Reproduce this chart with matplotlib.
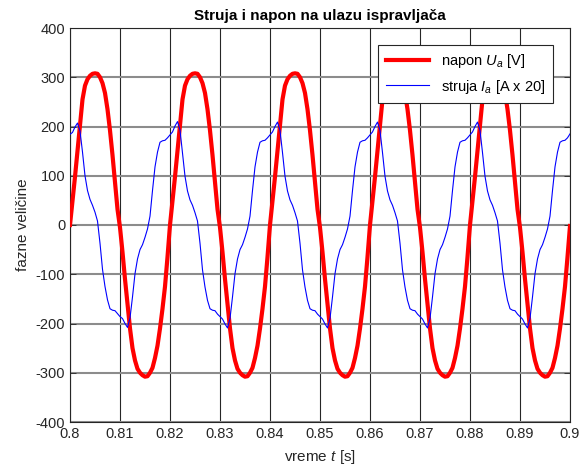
import numpy as np
import matplotlib
matplotlib.use("Agg")
import matplotlib.pyplot as plt

plt.rcParams["font.family"] = ["Liberation Sans", "DejaVu Sans"]
plt.rcParams["font.size"] = 10
plt.rcParams["axes.unicode_minus"] = False
plt.rcParams["mathtext.fontset"] = "custom"
plt.rcParams["mathtext.it"] = "Liberation Sans:italic"
plt.rcParams["mathtext.rm"] = "Liberation Sans"

# sampling step of the read-off values [s]
dt = 0.0005
t_start = 0.8

# napon U_a [V], read every 0.5 ms from 0.80 s to 0.90 s
napon = [
    0, 48, 98, 150, 200, 255, 283, 296, 303, 307, 308, 307, 300, 288, 268, 235, 192, 142, 88, 32,
    -5, -55, -110, -160, -210, -250, -275, -292, -300, -305, -308, -307, -300, -290, -270, -245, -210, -170, -125, -65,
    0, 48, 98, 150, 200, 255, 283, 296, 303, 307, 308, 307, 300, 288, 268, 235, 192, 142, 88, 32,
    -5, -55, -110, -160, -210, -250, -275, -292, -300, -305, -308, -307, -300, -290, -270, -245, -210, -170, -125, -65,
    0, 48, 98, 150, 200, 255, 283, 296, 303, 307, 308, 307, 300, 288, 268, 235, 192, 142, 88, 32,
    -5, -55, -110, -160, -210, -250, -275, -292, -300, -305, -308, -307, -300, -290, -270, -245, -210, -170, -125, -65,
    0, 48, 98, 150, 200, 255, 283, 296, 303, 307, 308, 307, 300, 288, 268, 235, 192, 142, 88, 32,
    -5, -55, -110, -160, -210, -250, -275, -292, -300, -305, -308, -307, -300, -290, -270, -245, -210, -170, -125, -65,
    0, 48, 98, 150, 200, 255, 283, 296, 303, 307, 308, 307, 300, 288, 268, 235, 192, 142, 88, 32,
    -5, -55, -110, -160, -210, -250, -275, -292, -300, -305, -308, -307, -300, -290, -270, -245, -210, -170, -125, -65,
    -2,
]

# struja I_a [A x 20], same sampling
struja = [
    184, 188, 199, 207, 191, 148, 100, 70, 52, 40, 26, 8, -37, -90, -125, -152, -170, -173, -174, -180,
    -186, -190, -200, -208, -189, -146, -99, -69, -50, -40, -25, -8, 18, 70, 118, 148, 168, 171, 172, 177,
    183, 189, 201, 210, 193, 147, 99, 69, 51, 40, 25, 8, -37, -91, -126, -153, -170, -173, -174, -181,
    -186, -191, -201, -209, -190, -146, -99, -69, -50, -40, -25, -8, 18, 70, 118, 148, 168, 171, 172, 177,
    183, 189, 200, 209, 192, 147, 99, 69, 51, 40, 25, 8, -37, -91, -126, -153, -170, -173, -174, -181,
    -186, -191, -201, -209, -190, -146, -99, -69, -50, -40, -25, -8, 18, 70, 118, 148, 168, 171, 172, 177,
    183, 189, 200, 209, 192, 147, 99, 69, 51, 40, 25, 8, -37, -91, -126, -153, -170, -173, -174, -181,
    -186, -191, -201, -209, -190, -146, -99, -69, -50, -40, -25, -8, 18, 70, 118, 148, 168, 171, 172, 177,
    183, 189, 200, 209, 192, 147, 99, 69, 51, 40, 25, 8, -37, -91, -126, -153, -170, -173, -174, -181,
    -186, -191, -201, -209, -190, -146, -99, -69, -50, -40, -25, -8, 18, 70, 118, 148, 168, 171, 172, 177,
    185,
]

x_ticks = [0.8, 0.81, 0.82, 0.83, 0.84, 0.85, 0.86, 0.87, 0.88, 0.89, 0.9]
x_labels = ["0.8", "0.81", "0.82", "0.83", "0.84", "0.85", "0.86", "0.87", "0.88", "0.89", "0.9"]
y_ticks = [-400, -300, -200, -100, 0, 100, 200, 300, 400]

t = t_start + dt * np.arange(len(napon))

W, H = 579, 470
fig = plt.figure(figsize=(W / 100, H / 100), dpi=100)
ax = fig.add_axes([70 / W, (H - 422) / H, 500 / W, 394 / H])

ax.plot(t, napon, color="#ff0000", lw=3.0, label=r"napon $U_a$ [V]", zorder=3)
ax.plot(t, struja, color="#0000ff", lw=0.8, label=r"struja $I_a$ [A x 20]", zorder=3)

ax.set_xlim(0.8, 0.9)
ax.set_ylim(-400, 400)
ax.set_xticks(x_ticks)
ax.set_xticklabels(x_labels)
ax.set_yticks(y_ticks)

# MATLAB-like grid: dark thin verticals, gray horizontals
ax.xaxis.grid(True, color="#262626", lw=0.8)
ax.yaxis.grid(True, color="#8c8c8c", lw=1.5)
ax.set_axisbelow(True)

ax.tick_params(direction="in", top=True, right=True, length=4, width=0.6,
               labelsize=10.5, colors="#262626", labelcolor="#262626")
for s in ax.spines.values():
    s.set_color("#262626")
    s.set_linewidth(0.8)

ax.set_title("Struja i napon na ulazu ispravljača", fontweight="bold", fontsize=11, pad=6)
ax.set_xlabel(r"vreme $t$ [s]", fontsize=11, color="#262626", labelpad=5)
ax.set_ylabel("fazne veličine", fontsize=11, color="#262626", labelpad=4)

leg = ax.legend(loc="upper right", bbox_to_anchor=(0.966, 0.957), borderaxespad=0,
                fancybox=False, framealpha=1, edgecolor="#262626", fontsize=10.5,
                handlelength=3.0, borderpad=0.5, labelspacing=0.5)
leg.get_frame().set_linewidth(0.8)
leg.set_zorder(5)

fig.savefig("out.png", dpi=100)
